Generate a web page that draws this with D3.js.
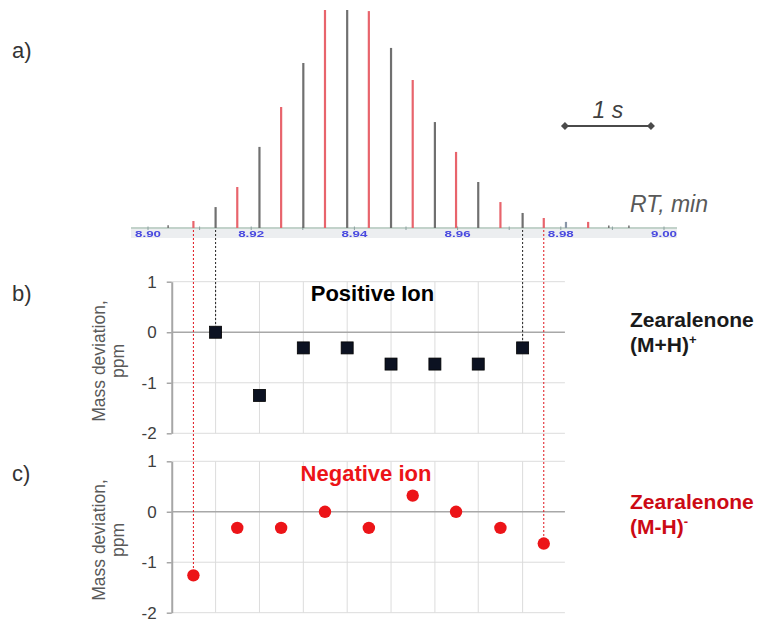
<!DOCTYPE html>
<html>
<head>
<meta charset="utf-8">
<script src="https://cdn.jsdelivr.net/npm/d3@7"></script>
<style>
  html, body { margin: 0; padding: 0; background: #fff; }
  svg { display: block; font-family: "Liberation Sans", Arial, sans-serif; }
</style>
</head>
<body>
<svg id="chart" width="757" height="626"></svg>
<script>
// Alternating polarity scans across the zearalenone peak (retention time, min)
const negRT = [8.9088, 8.9173, 8.9258, 8.9343, 8.9428, 8.9513, 8.9597, 8.9683, 8.9767, 8.9853];
const negIntensity = [3.2, 18.8, 55.5, 100, 99.5, 67.9, 34.9, 11.9, 4.6, 2.8];
const posRT = [8.9131, 8.9216, 8.9301, 8.9386, 8.9471, 8.9556, 8.9640, 8.9726, 8.9810];
const posIntensity = [9.6, 37.2, 75.7, 100, 82.6, 48.6, 21.1, 6.9, 2.8];
const noiseRT = [8.9039, 8.9893, 8.9932];
const noiseIntensity = [1.3, 1.1, 1.1];

// Mass deviation (ppm) of each scan inside the peak
const posDeviation = [0, -1.25, -0.31, -0.31, -0.63, -0.63, -0.63, -0.31];      // posRT[0..7]
const negDeviation = [-1.26, -0.32, -0.32, 0, -0.32, 0.32, 0, -0.32, -0.63];    // negRT[0..8]

const rtTicks = [8.90, 8.92, 8.94, 8.96, 8.98, 9.00];
const rtMinorTicks = [8.91, 8.93, 8.95, 8.97, 8.99];
const devTicks = [1, 0, -1, -2];
const devFrameRT = [8.9046, 8.9808];   // time window shown in the deviation plots

const svg = d3.select("#chart");
svg.append("rect").attr("width", 757).attr("height", 626).attr("fill", "#fff");

const defs = svg.append("defs");
defs.append("filter").attr("id", "soft")
  .append("feGaussianBlur").attr("stdDeviation", 0.4);

// ---------- scales ----------
const x = d3.scaleLinear().domain([8.90, 9.00]).range([148, 664]);
const yA = d3.scaleLinear().domain([0, 100]).range([228, 10]);
const yB = d3.scaleLinear().domain([-2, 1]).range([433.3, 281.7]);
const yC = d3.scaleLinear().domain([-2, 1]).range([612.7, 461.3]);

const RED_STEM = "#e8646c", GRAY_STEM = "#707070";
const POINT_RED = "#ec1418", LABEL_RED = "#cc0a14";

// ---------- panel a: chromatogram ----------
const gA = svg.append("g");
// axis band and line
gA.append("rect").attr("x", 131).attr("y", 229).attr("width", 546).attr("height", 9).attr("fill", "#eceef0");
gA.append("line").attr("x1", 131).attr("x2", 677).attr("y1", 228).attr("y2", 228)
  .attr("stroke", "#86a596").attr("stroke-width", 1.2);
gA.selectAll("line.minor").data(rtTicks.concat(rtMinorTicks)).join("line")
  .attr("class", "minor")
  .attr("x1", d => x(d)).attr("x2", d => x(d))
  .attr("y1", 226.5).attr("y2", 230)
  .attr("stroke", "#8aa0a0").attr("stroke-width", 1);
gA.selectAll("text.rt").data(rtTicks).join("text")
  .attr("class", "rt")
  .attr("x", d => x(d) - 13).attr("y", 237)
  .attr("textLength", 26).attr("lengthAdjust", "spacingAndGlyphs")
  .attr("font-size", 8.5).attr("font-weight", "bold").attr("fill", "#4a4ae0")
  .attr("filter", "url(#soft)")
  .text(d => d.toFixed(2));

// stems
gA.selectAll("line.noise").data(noiseRT).join("line")
  .attr("class", "noise")
  .attr("x1", d => x(d)).attr("x2", d => x(d))
  .attr("y1", yA(0)).attr("y2", (d, i) => yA(noiseIntensity[i]))
  .attr("stroke", GRAY_STEM).attr("stroke-width", 1.5);
gA.selectAll("line.pos").data(posRT).join("line")
  .attr("class", "pos")
  .attr("x1", d => x(d)).attr("x2", d => x(d))
  .attr("y1", yA(0)).attr("y2", (d, i) => yA(posIntensity[i]))
  .attr("stroke", (d, i) => i === posRT.length - 1 ? "#8a96a8" : GRAY_STEM).attr("stroke-width", 2.2);
gA.selectAll("line.neg").data(negRT).join("line")
  .attr("class", "neg")
  .attr("x1", d => x(d)).attr("x2", d => x(d))
  .attr("y1", yA(0)).attr("y2", (d, i) => yA(negIntensity[i]))
  .attr("stroke", RED_STEM).attr("stroke-width", 2.2);

// axis caption
gA.append("text").attr("x", 630).attr("y", 212)
  .attr("font-size", 23).attr("font-style", "italic").attr("fill", "#595959")
  .text("RT, min");

// 1 s scale bar
const barStart = 8.9808;
const barEnd = barStart + 1 / 60;
const bx0 = x(barStart), bx1 = x(barEnd), by = 126;
gA.append("line").attr("x1", bx0).attr("x2", bx1).attr("y1", by).attr("y2", by)
  .attr("stroke", "#4a4a4a").attr("stroke-width", 2);
gA.selectAll("path.diamond").data([bx0, bx1]).join("path")
  .attr("class", "diamond")
  .attr("d", d => `M${d - 4},${by} L${d},${by - 4} L${d + 4},${by} L${d},${by + 4} Z`)
  .attr("fill", "#4a4a4a");
gA.append("text").attr("x", (bx0 + bx1) / 2).attr("y", 118)
  .attr("text-anchor", "middle")
  .attr("font-size", 23).attr("font-style", "italic").attr("fill", "#404040")
  .text("1 s");

// ---------- deviation panels ----------
function devPanel(y, vGridRT) {
  const g = svg.append("g");
  const xl = x(devFrameRT[0]), xr = x(devFrameRT[1]);
  // vertical gridlines
  g.selectAll("line.vg").data(vGridRT).join("line")
    .attr("class", "vg")
    .attr("x1", d => x(d)).attr("x2", d => x(d))
    .attr("y1", y(1)).attr("y2", y(-2))
    .attr("stroke", "#dcdcdc").attr("stroke-width", 1);
  // horizontal gridlines
  g.selectAll("line.hg").data(devTicks).join("line")
    .attr("class", "hg")
    .attr("x1", xl).attr("x2", xr)
    .attr("y1", d => y(d)).attr("y2", d => y(d))
    .attr("stroke", d => d === 0 ? "#a8a8a8" : "#dcdcdc")
    .attr("stroke-width", d => d === 0 ? 1.6 : 1);
  // y axis
  const ax = g.append("g").attr("transform", `translate(${xl},0)`)
    .call(d3.axisLeft(y).tickValues(devTicks).tickSizeInner(5).tickSizeOuter(0)
      .tickPadding(10).tickFormat(d => String(d)));
  ax.select(".domain").attr("stroke", "#a6a6a6").attr("stroke-width", 2);
  ax.selectAll(".tick line").attr("stroke", "#a6a6a6").attr("stroke-width", 1.5);
  ax.selectAll(".tick text").attr("font-size", 17).attr("fill", "#404040")
    .attr("font-family", "\"Liberation Sans\", Arial, sans-serif");
  return g;
}

function yTitle(cx, cy) {
  const t = svg.append("g").attr("transform", `translate(${cx},${cy}) rotate(-90)`);
  t.append("text").attr("text-anchor", "middle").attr("font-size", 17.5).attr("fill", "#595959")
    .text("Mass deviation,");
  t.append("text").attr("y", 18.5).attr("text-anchor", "middle").attr("font-size", 17.5).attr("fill", "#595959")
    .text("ppm");
}

const gridRT = posRT.slice(0, posDeviation.length);
const gB = devPanel(yB, gridRT);
const gC = devPanel(yC, gridRT);

yTitle(105, 361);
yTitle(105, 540);

// connectors from the chromatogram scans down to their deviation points
const connectors = [
  { rt: posRT[0], yEnd: yB(posDeviation[0]) - 6, color: "#222" },
  { rt: posRT[posDeviation.length - 1], yEnd: yB(posDeviation[posDeviation.length - 1]) - 6, color: "#222" },
  { rt: negRT[0], yEnd: yC(negDeviation[0]) - 6, color: "#e0141c" },
  { rt: negRT[negDeviation.length - 1], yEnd: yC(negDeviation[negDeviation.length - 1]) - 6, color: "#e0141c" }
];
svg.selectAll("line.conn").data(connectors).join("line")
  .attr("class", "conn")
  .attr("x1", d => x(d.rt)).attr("x2", d => x(d.rt))
  .attr("y1", 230).attr("y2", d => d.yEnd)
  .attr("stroke", d => d.color).attr("stroke-width", 1)
  .attr("stroke-dasharray", "2,2");

// positive ion points (squares)
gB.selectAll("rect.pt").data(posDeviation).join("rect")
  .attr("class", "pt")
  .attr("x", (d, i) => x(posRT[i]) - 6).attr("y", d => yB(d) - 6)
  .attr("width", 12).attr("height", 12)
  .attr("fill", "#0c1222").attr("stroke", "#000").attr("stroke-width", 0.8);

// negative ion points (circles)
gC.selectAll("circle.pt").data(negDeviation).join("circle")
  .attr("class", "pt")
  .attr("cx", (d, i) => x(negRT[i])).attr("cy", d => yC(d))
  .attr("r", 6.2).attr("fill", POINT_RED);

// panel titles
svg.append("text").attr("x", 372.5).attr("y", 301).attr("text-anchor", "middle")
  .attr("font-size", 22).attr("font-weight", "bold").attr("fill", "#000")
  .text("Positive Ion");
svg.append("text").attr("x", 366).attr("y", 481).attr("text-anchor", "middle")
  .attr("font-size", 22).attr("font-weight", "bold").attr("fill", POINT_RED)
  .text("Negative ion");

// compound labels
function compound(y0, ion, sup, color) {
  svg.append("text").attr("x", 630).attr("y", y0)
    .attr("font-size", 21).attr("font-weight", "bold").attr("fill", color)
    .text("Zearalenone");
  const t = svg.append("text").attr("x", 630).attr("y", y0 + 25)
    .attr("font-size", 21).attr("font-weight", "bold").attr("fill", color);
  t.append("tspan").text(ion);
  t.append("tspan").attr("dy", -8).attr("font-size", 13).text(sup);
}
compound(327, "(M+H)", "+", "#1a1a1a");
compound(508.5, "(M-H)", "-", LABEL_RED);

// panel letters
[["a)", 58], ["b)", 301], ["c)", 481]].forEach(([s, yy]) => {
  svg.append("text").attr("x", 12).attr("y", yy)
    .attr("font-size", 22).attr("fill", "#333").text(s);
});
</script>
</body>
</html>
